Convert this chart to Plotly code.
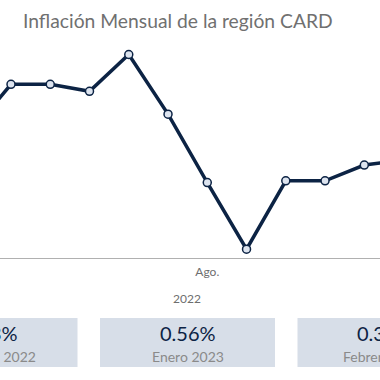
import plotly.graph_objects as go

# Data (monthly inflation, %)
months = [2, 3, 4, 5, 6, 7, 8, 9, 10, 11, 12, 13, 14]
month_labels = ["Feb. 2022", "Mar. 2022", "Abr. 2022", "May. 2022", "Jun. 2022", "Jul. 2022",
                "Ago. 2022", "Sep. 2022", "Oct. 2022", "Nov. 2022", "Dic. 2022", "Ene. 2023", "Feb. 2023"]
inflation = [0.72, 0.99, 0.99, 0.95, 1.16, 0.82, 0.43, 0.05, 0.44, 0.44, 0.53, 0.56, 0.34]

tick_vals = [2, 8, 14]
tick_text = ["Feb.", "Ago.", "Feb."]
year_label = "2022"
title_text = "Inflación Mensual de la región CARD"

card_values = ["0.53%", "0.56%", "0.34%"]
card_labels = ["Diciembre 2022", "Enero 2023", "Febrero 2023"]

W = H = 380
FONT = "Lato"
NAVY = "#0c2344"

fig = go.Figure()
fig.add_trace(go.Scatter(
    x=months, y=inflation, mode="lines+markers",
    line=dict(color=NAVY, width=3.5),
    marker=dict(size=8, color="#dde4ef", line=dict(color=NAVY, width=1.5)),
    text=month_labels, hoverinfo="text+y",
))

def py(p):
    return (H - p) / H

def px(p):
    return p / W

layout_shapes = []
annotations = []

# Title
annotations.append(dict(x=px(21), y=py(20), xref="paper", yref="paper", xanchor="left",
                        yanchor="middle", text=title_text, showarrow=False,
                        font=dict(family=FONT, size=19.3, color="#707070")))
# Year label
annotations.append(dict(x=px(187), y=py(298), xref="paper", yref="paper", xanchor="center",
                        yanchor="middle", text=year_label, showarrow=False,
                        font=dict(family=FONT, size=12, color="#6e6e6e")))

# Cards
centers = [-10, 187.5, 385]
label_shift = [-4, 0, 0]
for c, s, val, lab in zip(centers, label_shift, card_values, card_labels):
    layout_shapes.append(dict(type="rect", xref="paper", yref="paper",
                              x0=px(c - 87.5), x1=px(c + 87.5), y0=py(367), y1=py(318),
                              fillcolor="#d7dee8", line=dict(width=0), layer="below"))
    annotations.append(dict(x=px(c), y=py(333), xref="paper", yref="paper", xanchor="center",
                            yanchor="middle", text=val, showarrow=False,
                            font=dict(family=FONT, size=20, color=NAVY)))
    annotations.append(dict(x=px(c + s), y=py(356), xref="paper", yref="paper", xanchor="center",
                            yanchor="middle", text=lab, showarrow=False,
                            font=dict(family=FONT, size=14, color="#8a8a8a")))

fig.update_layout(
    width=W, height=H,
    margin=dict(l=0, r=0, t=0, b=0),
    paper_bgcolor="white", plot_bgcolor="white",
    showlegend=False,
    shapes=layout_shapes,
    annotations=annotations,
    xaxis=dict(domain=[0, 1], range=[2.72, 12.40], tickvals=tick_vals, ticktext=tick_text,
               showgrid=False, zeroline=False, showline=True, linecolor="#b0b0b0", linewidth=1,
               ticks="", ticklabelstandoff=3,
               tickfont=dict(family=FONT, size=12, color="#6e6e6e")),
    yaxis=dict(domain=[py(258), py(40)], range=[0, 218 * 0.0057], visible=False,
               showgrid=False, zeroline=False),
)

fig.write_html("out.html", config={"displayModeBar": False},
               post_script="document.body.style.margin='0';document.body.style.overflow='hidden';")
